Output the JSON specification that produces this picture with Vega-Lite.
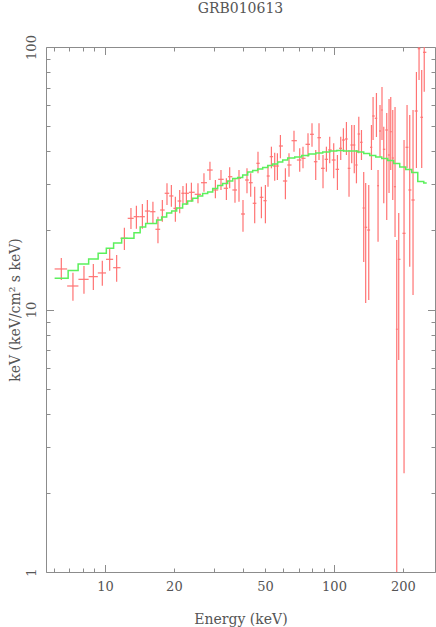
{
"$schema": "https://vega.github.io/schema/vega-lite/v6.json",
"width": 389, "height": 525,
"autosize": {"type": "none"},
"padding": {"left": 46, "top": 47, "right": 1, "bottom": 55},
"title": {"text": "GRB010613", "font": "DejaVu Serif", "fontSize": 14, "fontWeight": "normal", "color": "#555555", "anchor": "middle", "frame": "group", "offset": 22, "dy": 14, "baseline": "alphabetic"},
"config": {
  "view": {"stroke": "#8c8c8c", "strokeWidth": 1},
  "axis": {"grid": false, "domain": false, "labelFont": "DejaVu Serif", "labelFontSize": 13, "labelColor": "#555555", "tickColor": "#8c8c8c", "tickWidth": 1, "titleFont": "DejaVu Serif", "titleFontSize": 14, "titleFontWeight": "normal", "titleColor": "#555555", "labelOverlap": false, "labelFlush": false}
},
"datasets": {
"pts": [
{"E":6.45,"Elo":6.03,"Ehi":6.84,"F":14.27,"Flo":12.95,"Fhi":15.71},
{"E":7.25,"Elo":6.84,"Ehi":7.66,"F":12.29,"Flo":10.80,"Fhi":13.81},
{"E":8.10,"Elo":7.66,"Ehi":8.49,"F":13.03,"Flo":11.48,"Fhi":14.65},
{"E":8.90,"Elo":8.49,"Ehi":9.31,"F":13.34,"Flo":11.86,"Fhi":14.91},
{"E":9.74,"Elo":9.31,"Ehi":10.11,"F":13.78,"Flo":12.32,"Fhi":15.34},
{"E":10.49,"Elo":10.11,"Ehi":10.86,"F":15.53,"Flo":14.06,"Fhi":17.15},
{"E":11.25,"Elo":10.86,"Ehi":11.69,"F":14.43,"Flo":12.76,"Fhi":16.13},
{"E":12.16,"Elo":11.69,"Ehi":12.57,"F":18.68,"Flo":16.85,"Fhi":20.49},
{"E":12.99,"Elo":12.57,"Ehi":13.35,"F":22.25,"Flo":20.26,"Fhi":24.36},
{"E":13.72,"Elo":13.35,"Ehi":14.14,"F":22.57,"Flo":20.31,"Fhi":24.86},
{"E":14.57,"Elo":14.14,"Ehi":14.94,"F":22.57,"Flo":20.31,"Fhi":25.23},
{"E":15.32,"Elo":14.94,"Ehi":15.75,"F":23.72,"Flo":21.36,"Fhi":26.13},
{"E":16.20,"Elo":15.75,"Ehi":16.61,"F":23.58,"Flo":21.30,"Fhi":25.75},
{"E":17.04,"Elo":16.61,"Ehi":17.42,"F":20.21,"Flo":17.87,"Fhi":22.57},
{"E":17.81,"Elo":17.42,"Ehi":18.23,"F":23.93,"Flo":21.60,"Fhi":26.13},
{"E":18.66,"Elo":18.23,"Ehi":19.08,"F":27.72,"Flo":25.01,"Fhi":30.25},
{"E":19.50,"Elo":19.08,"Ehi":19.90,"F":27.07,"Flo":24.64,"Fhi":29.80},
{"E":20.30,"Elo":19.90,"Ehi":20.75,"F":24.29,"Flo":21.60,"Fhi":26.90},
{"E":21.20,"Elo":20.75,"Ehi":21.55,"F":25.90,"Flo":23.25,"Fhi":28.53},
{"E":21.91,"Elo":21.55,"Ehi":22.29,"F":27.72,"Flo":25.39,"Fhi":29.54},
{"E":22.68,"Elo":22.29,"Ehi":23.26,"F":27.72,"Flo":25.01,"Fhi":30.25},
{"E":23.85,"Elo":23.26,"Ehi":24.65,"F":27.96,"Flo":25.75,"Fhi":30.41},
{"E":25.48,"Elo":24.65,"Ehi":26.26,"F":27.47,"Flo":25.39,"Fhi":30.25},
{"E":27.06,"Elo":26.26,"Ehi":27.89,"F":30.41,"Flo":28.11,"Fhi":33.02},
{"E":28.74,"Elo":27.89,"Ehi":29.54,"F":33.99,"Flo":31.14,"Fhi":36.56},
{"E":30.35,"Elo":29.54,"Ehi":31.22,"F":28.53,"Flo":26.53,"Fhi":31.14},
{"E":32.11,"Elo":31.22,"Ehi":33.0,"F":31.33,"Flo":28.53,"Fhi":33.99},
{"E":33.90,"Elo":33.0,"Ehi":34.47,"F":28.96,"Flo":26.13,"Fhi":31.61},
{"E":35.04,"Elo":34.47,"Ehi":36.0,"F":32.05,"Flo":28.96,"Fhi":34.81},
{"E":36.96,"Elo":36.0,"Ehi":37.72,"F":28.53,"Flo":25.52,"Fhi":31.61},
{"E":38.48,"Elo":37.72,"Ehi":39.27,"F":31.61,"Flo":25.75,"Fhi":33.99},
{"E":40.06,"Elo":39.27,"Ehi":40.88,"F":23.11,"Flo":19.79,"Fhi":26.13},
{"E":41.70,"Elo":40.88,"Ehi":42.49,"F":31.14,"Flo":27.72,"Fhi":34.50},
{"E":43.28,"Elo":42.49,"Ehi":44.17,"F":30.41,"Flo":26.90,"Fhi":33.02},
{"E":45.06,"Elo":44.17,"Ehi":45.82,"F":25.39,"Flo":21.30,"Fhi":29.36},
{"E":46.58,"Elo":45.82,"Ehi":47.39,"F":36.05,"Flo":33.02,"Fhi":39.92},
{"E":48.20,"Elo":47.39,"Ehi":49.19,"F":26.76,"Flo":22.25,"Fhi":29.36},
{"E":50.18,"Elo":49.19,"Ehi":50.84,"F":25.97,"Flo":21.30,"Fhi":29.80},
{"E":51.51,"Elo":50.84,"Ehi":52.40,"F":32.25,"Flo":29.36,"Fhi":35.52},
{"E":53.30,"Elo":52.40,"Ehi":54.20,"F":38.21,"Flo":34.50,"Fhi":41.71},
{"E":55.10,"Elo":54.20,"Ehi":55.85,"F":35.21,"Flo":30.95,"Fhi":39.57},
{"E":56.61,"Elo":55.85,"Ehi":57.48,"F":35.21,"Flo":31.14,"Fhi":39.36},
{"E":58.35,"Elo":57.48,"Ehi":59.85,"F":41.96,"Flo":37.67,"Fhi":46.21},
{"E":61.35,"Elo":59.85,"Ehi":62.48,"F":30.87,"Flo":26.29,"Fhi":34.50},
{"E":63.61,"Elo":62.48,"Ehi":65.25,"F":35.52,"Flo":32.05,"Fhi":39.36},
{"E":66.89,"Elo":65.25,"Ehi":68.86,"F":43.96,"Flo":39.92,"Fhi":47.99},
{"E":70.84,"Elo":68.86,"Ehi":72.03,"F":37.11,"Flo":33.49,"Fhi":41.13},
{"E":73.22,"Elo":72.03,"Ehi":75.11,"F":37.67,"Flo":34.50,"Fhi":41.71},
{"E":77.00,"Elo":75.11,"Ehi":78.58,"F":42.59,"Flo":38.21,"Fhi":46.90},
{"E":80.16,"Elo":78.58,"Ehi":81.68,"F":46.50,"Flo":41.71,"Fhi":51.21},
{"E":83.21,"Elo":81.68,"Ehi":84.61,"F":36.56,"Flo":31.14,"Fhi":40.52},
{"E":86.01,"Elo":84.61,"Ehi":87.77,"F":45.13,"Flo":37.11,"Fhi":51.21},
{"E":89.54,"Elo":87.77,"Ehi":91.09,"F":34.50,"Flo":28.96,"Fhi":38.78},
{"E":92.65,"Elo":91.09,"Ehi":94.21,"F":37.34,"Flo":33.49,"Fhi":41.71},
{"E":95.78,"Elo":94.21,"Ehi":97.74,"F":40.52,"Flo":36.05,"Fhi":45.53},
{"E":99.71,"Elo":97.74,"Ehi":101.6,"F":37.11,"Flo":31.61,"Fhi":42.97},
{"E":103.5,"Elo":101.6,"Ehi":105.2,"F":34.20,"Flo":28.53,"Fhi":38.78},
{"E":107.0,"Elo":105.2,"Ehi":108.4,"F":41.13,"Flo":37.11,"Fhi":45.53},
{"E":109.9,"Elo":108.4,"Ehi":111.6,"F":44.23,"Flo":39.92,"Fhi":49.01},
{"E":113.3,"Elo":111.6,"Ehi":114.8,"F":44.62,"Flo":38.78,"Fhi":51.80},
{"E":116.3,"Elo":114.8,"Ehi":117.9,"F":34.50,"Flo":26.90,"Fhi":40.52},
{"E":119.5,"Elo":117.9,"Ehi":121.0,"F":42.33,"Flo":36.05,"Fhi":50.45},
{"E":122.6,"Elo":121.0,"Ehi":123.9,"F":42.33,"Flo":33.02,"Fhi":50.45},
{"E":125.3,"Elo":123.9,"Ehi":126.8,"F":35.52,"Flo":30.25,"Fhi":40.52},
{"E":128.3,"Elo":126.8,"Ehi":130.0,"F":46.62,"Flo":39.36,"Fhi":54.26},
{"E":131.8,"Elo":130.0,"Ehi":133.3,"F":43.35,"Flo":37.11,"Fhi":48.28},
{"E":134.8,"Elo":133.3,"Ehi":136.1,"F":24.36,"Flo":15.17,"Fhi":33.40},
{"E":137.5,"Elo":136.1,"Ehi":139.6,"F":20.57,"Flo":10.59,"Fhi":30.33},
{"E":141.8,"Elo":139.6,"Ehi":143.7,"F":20.08,"Flo":10.87,"Fhi":29.80},
{"E":145.7,"Elo":143.7,"Ehi":146.9,"F":41.49,"Flo":33.99,"Fhi":50.45},
{"E":148.1,"Elo":146.9,"Ehi":150.6,"F":54.59,"Flo":44.23,"Fhi":64.50},
{"E":153.2,"Elo":150.6,"Ehi":154.4,"F":53.51,"Flo":45.41,"Fhi":66.80},
{"E":155.7,"Elo":154.4,"Ehi":157.2,"F":29.62,"Flo":18.13,"Fhi":33.99},
{"E":158.8,"Elo":157.2,"Ehi":160.4,"F":47.86,"Flo":38.10,"Fhi":60.13},
{"E":162.0,"Elo":160.4,"Ehi":163.4,"F":57.55,"Flo":44.23,"Fhi":70.41},
{"E":164.9,"Elo":163.4,"Ehi":167.4,"F":40.77,"Flo":25.39,"Fhi":49.71},
{"E":169.9,"Elo":167.4,"Ehi":171.9,"F":48.28,"Flo":21.93,"Fhi":56.05},
{"E":173.9,"Elo":171.9,"Ehi":175.4,"F":38.78,"Flo":27.79,"Fhi":63.38},
{"E":176.9,"Elo":175.4,"Ehi":178.7,"F":47.57,"Flo":33.99,"Fhi":64.50},
{"E":180.5,"Elo":178.7,"Ehi":182.6,"F":37.77,"Flo":26.13,"Fhi":57.55},
{"E":184.7,"Elo":182.6,"Ehi":186.3,"F":29.36,"Flo":18.89,"Fhi":59.08},
{"E":187.9,"Elo":186.3,"Ehi":189.8,"F":8.41,"Flo":0.9,"Fhi":18.40},
{"E":191.7,"Elo":189.8,"Ehi":195.0,"F":15.53,"Flo":6.42,"Fhi":23.31},
{"E":202.2,"Elo":199.0,"Ehi":205.3,"F":19.51,"Flo":2.38,"Fhi":44.23},
{"E":208.4,"Elo":205.3,"Ehi":211.2,"F":41.49,"Flo":34.50,"Fhi":60.13},
{"E":214.1,"Elo":211.2,"Ehi":217.7,"F":28.53,"Flo":14.56,"Fhi":55.08},
{"E":221.3,"Elo":217.7,"Ehi":225.1,"F":26.13,"Flo":11.35,"Fhi":57.55},
{"E":229.0,"Elo":225.1,"Ehi":232.0,"F":57.04,"Flo":34.60,"Fhi":80.31},
{"E":235.1,"Elo":232.0,"Ehi":238.3,"F":98.52,"Flo":74.86,"Fhi":110},
{"E":241.5,"Elo":238.3,"Ehi":244.6,"F":53.98,"Flo":34.60,"Fhi":81.73},
{"E":247.7,"Elo":244.6,"Ehi":253.0,"F":95.46,"Flo":67.57,"Fhi":110}
],
"model": [
{"E":6.031,"F":13.15},{"E":6.908,"F":14.08},{"E":7.638,"F":14.91},{"E":8.490,"F":15.57},
{"E":9.340,"F":16.37},{"E":10.14,"F":17.10},{"E":10.91,"F":17.92},{"E":11.83,"F":18.68},
{"E":13.39,"F":19.61},{"E":14.25,"F":20.62},{"E":15.06,"F":21.26},{"E":16.82,"F":21.93},
{"E":17.69,"F":22.51},{"E":18.60,"F":23.31},{"E":19.56,"F":23.72},{"E":20.57,"F":24.36},
{"E":21.84,"F":25.23},{"E":22.97,"F":25.90},{"E":24.16,"F":26.53},{"E":25.41,"F":27.07},
{"E":26.71,"F":27.67},{"E":28.09,"F":28.03},{"E":29.54,"F":28.91},{"E":31.06,"F":29.67},
{"E":32.66,"F":30.20},{"E":34.35,"F":30.87},{"E":36.12,"F":31.55},{"E":37.98,"F":31.83},
{"E":39.94,"F":32.53},{"E":42.00,"F":33.40},{"E":44.16,"F":33.84},{"E":46.44,"F":34.29},
{"E":48.83,"F":34.75},{"E":51.35,"F":35.36},{"E":54.00,"F":35.83},{"E":56.78,"F":36.46},
{"E":59.71,"F":37.11},{"E":62.79,"F":37.77},{"E":67.37,"F":38.10},{"E":72.28,"F":38.61},
{"E":77.55,"F":39.12},{"E":83.21,"F":39.47},{"E":89.27,"F":39.81},{"E":95.78,"F":40.17},
{"E":102.8,"F":40.34},{"E":110.3,"F":40.17},{"E":118.3,"F":40.17},{"E":126.9,"F":39.81},
{"E":134.8,"F":39.30},{"E":143.2,"F":38.61},{"E":152.1,"F":38.10},{"E":161.6,"F":37.60},
{"E":171.6,"F":36.95},{"E":182.3,"F":35.99},{"E":193.6,"F":34.90},{"E":205.7,"F":34.14},
{"E":218.5,"F":33.26},{"E":232.1,"F":30.73},{"E":246.5,"F":30.33},{"E":254.0,"F":30.33}
]
},
"resolve": {"axis": {"x": "independent", "y": "independent"}},
"layer": [
{
 "data": {"name": "pts"},
 "mark": {"type": "rule", "color": "#ff7373", "strokeWidth": 1.2, "clip": true},
 "encoding": {
  "x": {"field": "E", "type": "quantitative", "scale": {"type": "log", "domain": [5.53, 276], "nice": false},
        "axis": {"orient": "bottom", "values": [10, 20, 50, 100, 200], "ticks": false, "labelPadding": 8, "title": "Energy (keV)", "titleX": 194.5, "titleY": 51, "titleBaseline": "alphabetic", "titleAlign": "center"}},
  "y": {"field": "Flo", "type": "quantitative", "scale": {"type": "log", "domain": [1, 100], "nice": false},
        "axis": {"orient": "left", "values": [1, 10, 100], "ticks": false, "labelAngle": -90, "labelAlign": "center", "labelBaseline": "alphabetic", "labelPadding": 11, "title": "keV (keV/cm² s keV)", "titleAngle": -90, "titleX": -27, "titleY": 262.5, "titleAlign": "center", "titleBaseline": "alphabetic"}},
  "y2": {"field": "Fhi"}
 }
},
{
 "data": {"name": "pts"},
 "mark": {"type": "rule", "color": "#ff7373", "strokeWidth": 1.2, "clip": true},
 "encoding": {
  "x": {"field": "Elo", "type": "quantitative", "scale": {"type": "log", "domain": [5.53, 276], "nice": false},
        "axis": {"orient": "bottom", "values": [6, 7, 8, 9, 20, 30, 40, 50, 60, 70, 80, 90, 200], "labels": false, "tickSize": -4, "title": null}},
  "x2": {"field": "Ehi"},
  "y": {"field": "F", "type": "quantitative", "scale": {"type": "log", "domain": [1, 100], "nice": false},
        "axis": {"orient": "left", "values": [2, 3, 4, 5, 6, 7, 8, 9, 20, 30, 40, 50, 60, 70, 80, 90], "labels": false, "tickSize": -4, "title": null}}
 }
},
{
 "data": {"name": "model"},
 "mark": {"type": "line", "color": "#5cf05c", "strokeWidth": 1.5, "interpolate": "step-after", "clip": true},
 "encoding": {
  "x": {"field": "E", "type": "quantitative", "scale": {"type": "log", "domain": [5.53, 276], "nice": false},
        "axis": {"orient": "bottom", "values": [10, 100], "labels": false, "tickSize": -7.5, "title": null}},
  "y": {"field": "F", "type": "quantitative", "scale": {"type": "log", "domain": [1, 100], "nice": false},
        "axis": {"orient": "left", "values": [1, 10, 100], "labels": false, "tickSize": -7.5, "title": null}}
 }
},
{
 "data": {"name": "model"},
 "mark": {"type": "point", "opacity": 0, "clip": true},
 "encoding": {
  "x": {"field": "E", "type": "quantitative", "scale": {"type": "log", "domain": [5.53, 276], "nice": false},
        "axis": {"orient": "top", "values": [6, 7, 8, 9, 20, 30, 40, 50, 60, 70, 80, 90, 200], "labels": false, "tickSize": -4, "title": null}},
  "y": {"field": "F", "type": "quantitative", "scale": {"type": "log", "domain": [1, 100], "nice": false},
        "axis": {"orient": "right", "values": [2, 3, 4, 5, 6, 7, 8, 9, 20, 30, 40, 50, 60, 70, 80, 90], "labels": false, "tickSize": -4, "title": null}}
 }
},
{
 "data": {"name": "model"},
 "mark": {"type": "point", "opacity": 0, "clip": true},
 "encoding": {
  "x": {"field": "E", "type": "quantitative", "scale": {"type": "log", "domain": [5.53, 276], "nice": false},
        "axis": {"orient": "top", "values": [10, 100], "labels": false, "tickSize": -7.5, "title": null}},
  "y": {"field": "F", "type": "quantitative", "scale": {"type": "log", "domain": [1, 100], "nice": false},
        "axis": {"orient": "right", "values": [1, 10, 100], "labels": false, "tickSize": -7.5, "title": null}}
 }
}
]
}
